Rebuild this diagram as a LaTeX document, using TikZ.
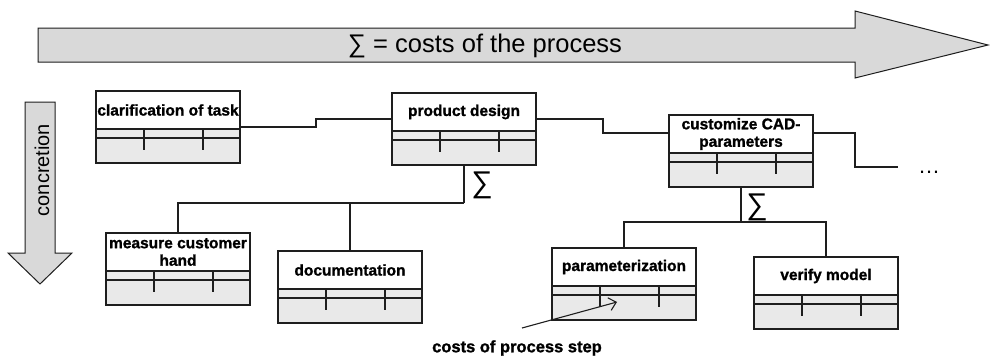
\documentclass[tikz,border=0pt]{standalone}
\usepackage{fontspec}
\setmainfont{Liberation Sans}
\newfontfamily\heavyfont{Liberation Sans Bold}[BoldFont=Liberation Sans Bold, BoldFeatures={FakeBold=1.2}]
\usetikzlibrary{arrows.meta}
\definecolor{linecol}{RGB}{30,30,30}
\definecolor{arrowfill}{RGB}{217,217,217}
\definecolor{boxgrey}{RGB}{233,233,233}
\tikzset{
  pbox/.style={draw=linecol, fill=boxgrey, line width=1.2pt, minimum width=144pt, minimum height=72pt, inner sep=0pt, outer sep=0pt},
  boxline/.style={draw=linecol, line width=1.2pt},
  boxlabel/.style={font=\fontsize{15.5}{17.5}\selectfont\heavyfont\bfseries, align=center, inner sep=0pt, text=black},
  conn/.style={draw=linecol, line width=1.2pt},
  bigarrow/.style={draw=linecol, fill=arrowfill, line width=1pt, line join=miter},
  sigmalabel/.style={font=\fontsize{30}{32}\selectfont, inner sep=0pt},
}
\newcommand\procbox[4]{%
  \node[pbox,anchor=north west] (#1) at (#2,#3) {};
  \filldraw[fill=white, draw=linecol, line width=1.2pt] (#1.north west) rectangle ([yshift=-38pt]#1.north east);
  \draw[boxline] ([yshift=-47pt]#1.north west) -- ([yshift=-47pt]#1.north east);
  \draw[boxline] ([xshift=48pt,yshift=-38pt]#1.north west) -- ++(0,21);
  \draw[boxline] ([xshift=107pt,yshift=-38pt]#1.north west) -- ++(0,21);
  \node[boxlabel] (#1-label) at ([yshift=-19pt]#1.north) {#4};
  \draw[boxline] (#1.north west) rectangle (#1.south east);
}
\begin{document}
\begin{tikzpicture}[x=1pt,y=-1pt]
\useasboundingbox[fill=white] (0,0) rectangle (990,356);
% big horizontal arrow
\draw[bigarrow] (38,28) -- (855,28) -- (855,11) -- (988,45) -- (855,78) -- (855,62) -- (38,62) -- cycle;
\node[font=\fontsize{25.5}{27}\selectfont, inner sep=0pt] (toptext) at (485,46) {∑ = costs of the process};
% vertical arrow
\draw[bigarrow] (25,102) -- (55,102) -- (55,253) -- (72,253) -- (40,284) -- (8,253) -- (25,253) -- cycle;
\node[font=\fontsize{20}{22}\selectfont, rotate=90, inner sep=0pt] (conc) at (42,170) {concretion};
% boxes
\procbox{b1}{96}{91}{clarification of task}
\procbox{b2}{392}{93}{product design}
\procbox{b3}{669}{115}{customize CAD-\\parameters}
\procbox{b4}{106}{233}{measure customer\\hand}
\procbox{b5}{278}{251}{documentation}
\procbox{b6}{552}{248}{parameterization}
\procbox{b7}{754}{257}{verify model}
% process chain
\draw[conn] (b1.east) -- (316,127) |- ([yshift=10pt]b2.west);
\draw[conn] ([yshift=10pt]b2.east) -- (603,119) |- ([yshift=18pt]b3.west);
\coordinate (cont) at (898,167);
\draw[conn] ([yshift=18pt]b3.east) -- (855,133) |- (cont);
\node[font=\fontsize{22}{24}\selectfont, inner sep=0pt] (dots) at (929,172) {…};
% refinement of product design
\coordinate (j1) at (464,203);
\draw[conn] (b2.south) -- (j1);
\draw[conn] (j1) -| (b4.north);
\draw[conn] (b5.north) -- (b5.north |- j1);
\node[sigmalabel] (s1) at (482,185) {∑};
% refinement of customize
\coordinate (j2) at (741,222);
\draw[conn] (b3.south) -- (j2);
\draw[conn] (b6.north) |- (j2);
\draw[conn] (j2) -| (b7.north);
\node[sigmalabel] (s2) at (757,207) {∑};
% cost annotation
\node[font=\fontsize{16.5}{18}\selectfont\heavyfont\bfseries, inner sep=0pt] (costlbl) at (517,348) {costs of process step};
\coordinate (cs) at (522,328);
\coordinate (ct) at (617,302);
\draw[conn, line width=1.1pt, -{Straight Barb[length=7pt,width=13pt]}] (cs) -- (ct);
\end{tikzpicture}
\end{document}
